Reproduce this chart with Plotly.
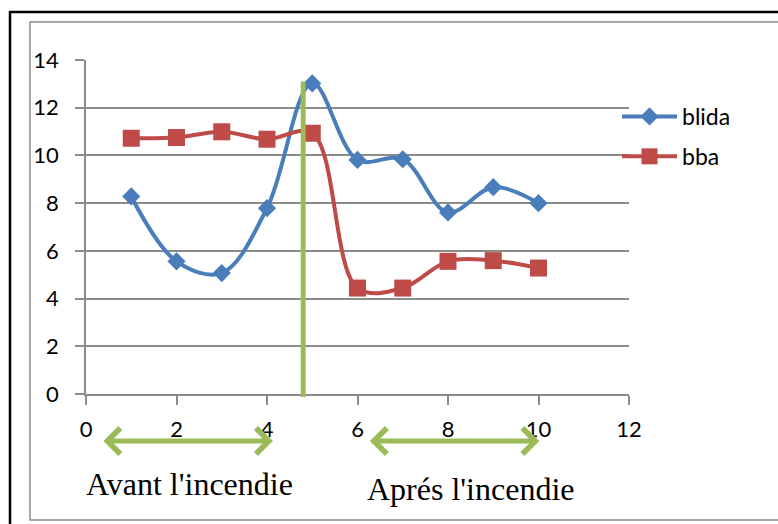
import plotly.graph_objects as go

x_vals = [1, 2, 3, 4, 5, 6, 7, 8, 9, 10]
blida = [8.28, 5.56, 5.07, 7.79, 13.02, 9.81, 9.84, 7.61, 8.67, 8.0]
bba = [10.72, 10.75, 10.99, 10.68, 10.93, 4.44, 4.44, 5.56, 5.59, 5.28]

series_names = ["blida", "bba"]
series_colors = ["#4A7EBB", "#BE4B48"]
divider_x = 4.8
before_span = [0.35, 4.13]
after_span = [6.24, 10.02]
label_before = "Avant l'incendie"
label_after = "Aprés l'incendie"

W, H = 778, 524
L, R, T, B = 86, 149, 60, 130
pw = W - L - R
ph = H - T - B


def px2x(px):
    return (px - L) / pw


def py2y(py):
    return (H - B - py) / ph


fig = go.Figure()
fig.add_trace(go.Scatter(
    x=x_vals, y=blida, name=series_names[0], mode="lines+markers",
    line=dict(color=series_colors[0], width=4, shape="spline", smoothing=1),
    marker=dict(symbol="diamond", size=14, color=series_colors[0]),
    legendgroup="a", cliponaxis=False,
))
fig.add_trace(go.Scatter(
    x=x_vals, y=bba, name=series_names[1], mode="lines+markers",
    line=dict(color=series_colors[1], width=4, shape="spline", smoothing=1),
    marker=dict(symbol="square", size=17, color=series_colors[1]),
    legendgroup="b", cliponaxis=False,
))

grid = "#8C8C8C"
fig.update_layout(
    width=W, height=H,
    margin=dict(l=L, r=R, t=T, b=B),
    paper_bgcolor="white", plot_bgcolor="white",
    font=dict(family="Lato, Open Sans, sans-serif", size=22, color="black"),
    xaxis=dict(range=[0, 12], dtick=2, tick0=0, showgrid=False, zeroline=False,
               showline=True, linecolor=grid, linewidth=1.5,
               ticks="outside", ticklen=9, tickcolor=grid, tickwidth=1.5,
               ticklabelstandoff=6),
    yaxis=dict(range=[0, 14], dtick=2, tick0=0, showgrid=True, gridcolor=grid,
               gridwidth=1.5, zeroline=False,
               showline=True, linecolor=grid, linewidth=1.5,
               ticks="outside", ticklen=9, tickcolor=grid, tickwidth=1.5,
               ticklabelstandoff=12),
    legend=dict(x=px2x(617), y=py2y(95), xanchor="left", yanchor="top",
                bgcolor="rgba(0,0,0,0)", itemwidth=55, tracegroupgap=7,
                traceorder="grouped", font=dict(size=23)),
    showlegend=True,
)

shapes = [
    dict(type="rect", xref="paper", yref="paper",
         x0=px2x(10), x1=px2x(800), y0=py2y(540), y1=py2y(12),
         line=dict(color="black", width=2.5), fillcolor="rgba(0,0,0,0)", layer="below"),
    dict(type="rect", xref="paper", yref="paper",
         x0=px2x(30), x1=px2x(800), y0=py2y(520), y1=py2y(22),
         line=dict(color="#8C8C8C", width=1.5), fillcolor="rgba(0,0,0,0)", layer="below"),
    dict(type="line", xref="x", yref="paper", x0=divider_x, x1=divider_x,
         y0=py2y(397), y1=py2y(81.5),
         line=dict(color="#9BBB59", width=5), layer="above"),
]
fig.update_layout(shapes=shapes)

arrow_y = py2y(441)
for span in (before_span, after_span):
    fig.add_annotation(
        x=span[1], y=arrow_y, xref="x", yref="paper",
        ax=span[0], ay=0, axref="x", ayref="pixel",
        text="", showarrow=True, arrowhead=4, startarrowhead=4,
        arrowside="end+start", arrowsize=1, startarrowsize=1,
        arrowwidth=5, arrowcolor="#9BBB59", standoff=0, startstandoff=0,
    )

fig.add_annotation(x=px2x(189), y=py2y(484), xref="paper", yref="paper",
                   text=label_before, showarrow=False, xanchor="center", yanchor="middle",
                   font=dict(family="Liberation Serif, Times New Roman, serif", size=32))
fig.add_annotation(x=px2x(470), y=py2y(489), xref="paper", yref="paper",
                   text=label_after, showarrow=False, xanchor="center", yanchor="middle",
                   font=dict(family="Liberation Serif, Times New Roman, serif", size=32))

fig.write_html("out.html")
